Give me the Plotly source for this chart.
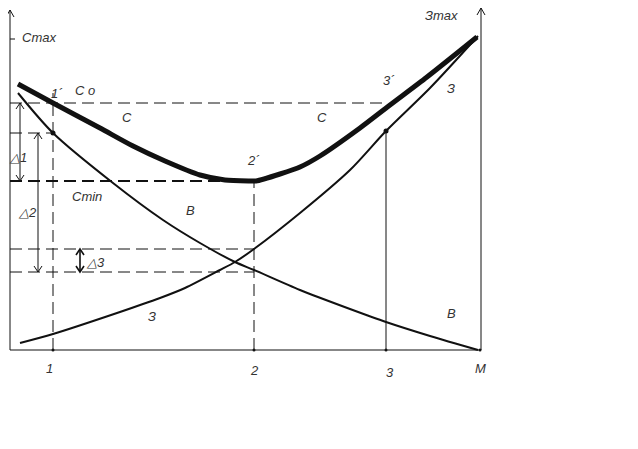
import plotly.graph_objects as go

# ---- data (chart frame: origin at axes crossing, x = quantity, y = cost) ----
c_x = [8, 43, 90, 123, 155, 190, 215, 240, 246, 270, 290, 310, 350, 380, 417, 467]
c_y = [266, 247, 222, 204, 189, 175, 170, 169, 169, 176, 183, 194, 222, 245, 273, 313]

b_x = [8, 43, 103, 153, 190, 225, 244, 290, 340, 376, 420, 468]
b_y = [257, 217, 167, 130, 107, 88, 80, 60, 41, 28, 14, 0]

z_x = [10, 43, 107, 150, 175, 210, 225, 244, 290, 340, 376, 420, 468]
z_y = [7, 16, 37, 52, 62, 80, 88, 101, 137, 180, 219, 262, 314]

q_vals = [43, 244, 376]          # quantities 1, 2, 3
q_labels = ["1", "2", "3"]
M_val = 470
c_max = 313
c_0 = 247
c_min = 169
b_1 = 217
z_2 = 101
b_2 = 78
y_top = 340
x_right = 471

FONT = "Liberation Sans"
INK = "#111111"

fig = go.Figure()

def line(xs, ys, width=1, dash=None, color=INK, shape="linear", smooth=None):
    ln = dict(color=color, width=width, shape=shape)
    if dash:
        ln["dash"] = dash
    if smooth is not None:
        ln["smoothing"] = smooth
    fig.add_trace(go.Scatter(x=xs, y=ys, mode="lines", line=ln,
                             hoverinfo="skip", showlegend=False))

def vhead(x, y, up=True, w=4, h=7, width=1):
    s = -1 if up else 1
    line([x - w, x, x + w], [y + s * h, y, y + s * h], width=width)

DASH = "12px,6px"

# axes
line([0, 0], [0, y_top], width=1)
vhead(0, y_top)
line([x_right, x_right], [0, y_top + 2], width=1)
vhead(x_right, y_top + 2)
line([0, x_right], [0, 0], width=1.2)
line([0, 5], [c_max - 2, c_max - 2], width=1)

# dashed guide lines
line([0, q_vals[2] + 2], [c_0, c_0], dash=DASH)
line([0, q_vals[1]], [c_min, c_min], width=2, dash=DASH)
line([0, q_vals[0]], [b_1, b_1], dash=DASH)
line([0, q_vals[1]], [z_2, z_2], dash=DASH)
line([0, q_vals[1]], [b_2, b_2], dash=DASH)
line([q_vals[0], q_vals[0]], [0, c_0 + 10], dash=DASH)
line([q_vals[1], q_vals[1]], [0, c_min], dash=DASH)
line([q_vals[2], q_vals[2]], [0, z_y[10]], width=1)

# curves
line(b_x, b_y, width=2, shape="spline", smooth=0.8)
line(z_x, z_y, width=2, shape="spline", smooth=0.8)
line(c_x, c_y, width=5, shape="spline", smooth=0.7)

# points
fig.add_trace(go.Scatter(x=[q_vals[0], q_vals[2]], y=[b_1, z_y[10]], mode="markers",
                         marker=dict(color=INK, size=5), hoverinfo="skip", showlegend=False))
fig.add_trace(go.Scatter(x=q_vals + [M_val], y=[0, 0, 0, 0], mode="markers",
                         marker=dict(color=INK, size=3), hoverinfo="skip", showlegend=False))

# delta arrows
for ax_x, y_hi, y_lo, w in [(10, c_0, c_min, 1), (28, b_1, b_2, 1), (70, z_2, b_2, 1.6)]:
    line([ax_x, ax_x], [y_lo, y_hi], width=w)
    vhead(ax_x, y_hi, up=True, w=4, h=6, width=w)
    vhead(ax_x, y_lo, up=False, w=4, h=6, width=w)

# text labels
labels = [
    ("Cmax", 10, c_max, "left", "middle"),
    ("Зmax", 431, 335, "center", "middle"),
    ("1´", 47, 257, "center", "middle"),
    ("C o", 75, 260, "center", "middle"),
    ("C", 117, 233, "center", "middle"),
    ("C", 312, 233, "center", "middle"),
    ("2´", 243, 190, "center", "middle"),
    ("3´", 379, 270, "center", "middle"),
    ("З", 441, 262, "center", "middle"),
    ("Cmin", 77, 154, "center", "middle"),
    ("B", 180, 140, "center", "middle"),
    ("З", 142, 34, "center", "middle"),
    ("B", 441, 37, "center", "middle"),
    ("△1", 8, 193, "center", "middle"),
    ("△2", 17, 138, "center", "middle"),
    ("△3", 85, 88, "center", "middle"),
    (q_labels[0], 39, -18, "center", "middle"),
    (q_labels[1], 244, -20, "center", "middle"),
    (q_labels[2], 380, -22, "center", "middle"),
    ("M", M_val, -18, "center", "middle"),
]
for txt, x, y, xa, ya in labels:
    fig.add_annotation(x=x, y=y, text="<i>" + txt + "</i>", showarrow=False,
                       xanchor=xa, yanchor=ya,
                       font=dict(family=FONT, size=13, color="#333333"))

# page body has an 8px margin, so the figure is 8px smaller on each axis
fig.update_layout(
    width=630, height=441,
    margin=dict(l=0, r=0, t=0, b=0),
    paper_bgcolor="white", plot_bgcolor="white",
    xaxis=dict(range=[-2, 628], visible=False, fixedrange=True),
    yaxis=dict(range=[-99, 342], visible=False, fixedrange=True),
    showlegend=False,
)

fig.write_html("out.html")
